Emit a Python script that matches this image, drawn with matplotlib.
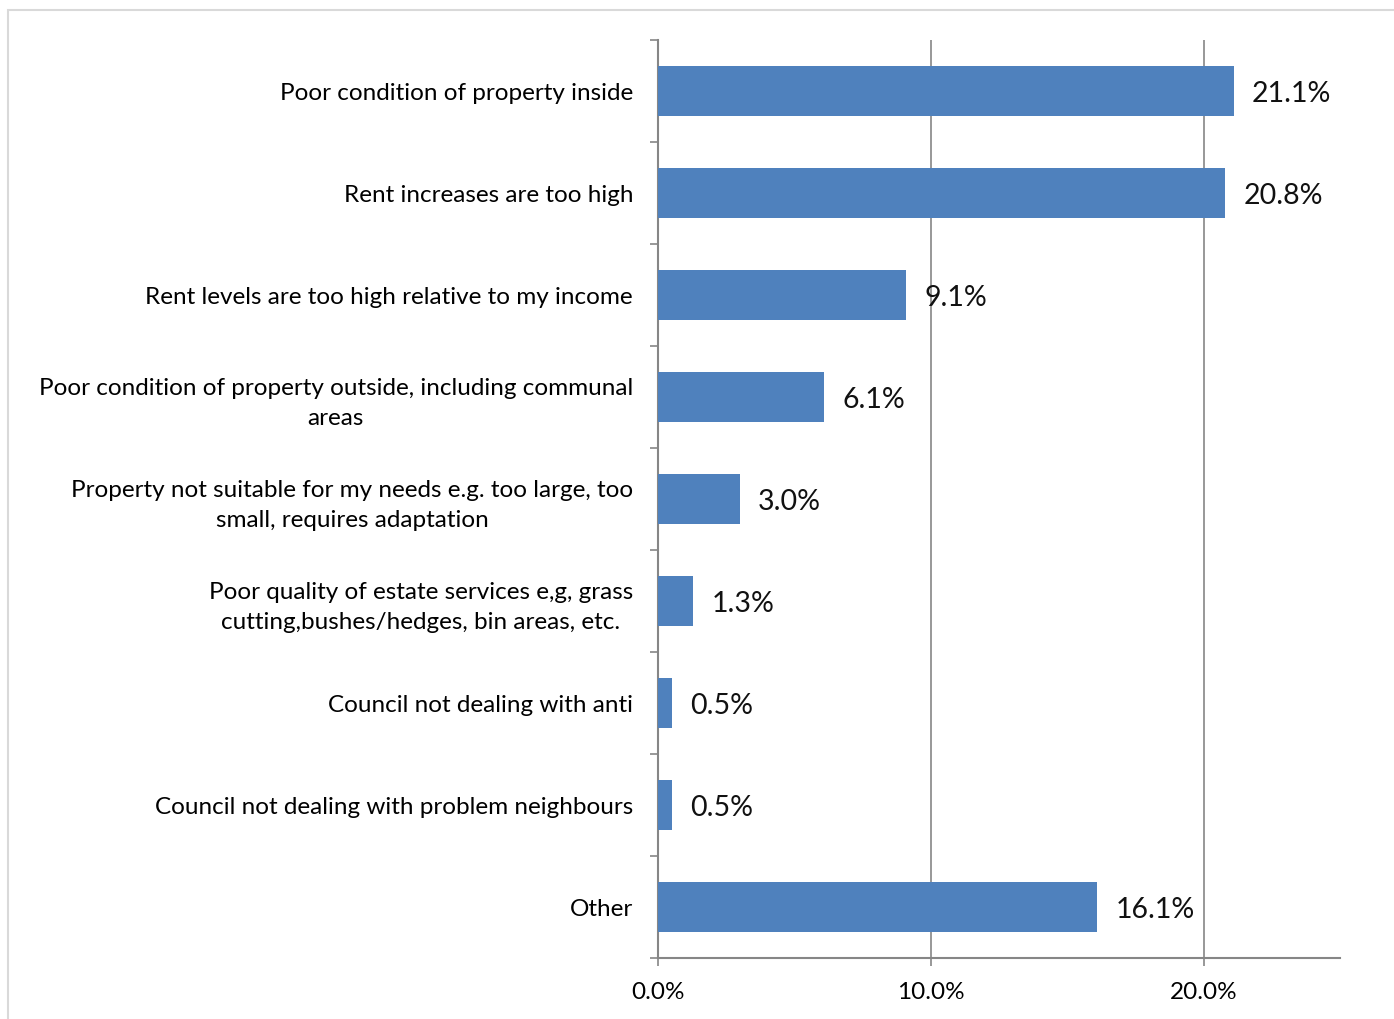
import matplotlib
matplotlib.use("Agg")
import matplotlib.pyplot as plt
from matplotlib.ticker import FuncFormatter, MultipleLocator

plt.rcParams.update({"font.family": ["Lato", "DejaVu Sans"]})

# reasons for dissatisfaction, top to bottom
reasons = [
    "Poor condition of property inside",
    "Rent increases are too high",
    "Rent levels are too high relative to my income",
    "Poor condition of property outside, including communal\nareas",
    "Property not suitable for my needs e.g. too large, too\nsmall, requires adaptation",
    "Poor quality of estate services e,g, grass\ncutting,bushes/hedges, bin areas, etc.",
    "Council not dealing with anti",
    "Council not dealing with problem neighbours",
    "Other",
]
share = [21.1, 20.8, 9.1, 6.1, 3.0, 1.3, 0.5, 0.5, 16.1]

BAR = "#4F81BD"
AXIS = "#868686"

fig = plt.figure(figsize=(13.94, 10.19), dpi=100)
# light frame around the chart area
fig.add_artist(plt.Rectangle((8 / 1394, -0.1), 1.2, 1 - 10 / 1019 + 0.1,
                             transform=fig.transFigure, fill=False,
                             edgecolor="#D9D9D9", lw=1.5))

ax = fig.add_axes([658 / 1394, 1 - 958 / 1019, (1340 - 658) / 1394, (958 - 40) / 1019])
y = list(range(len(reasons)))[::-1]
ax.barh(y, share, height=0.49, color=BAR, zorder=3)
for v, yy in zip(share, y):
    ax.annotate(f"{v:.1f}%", (v, yy), xytext=(13, 0), textcoords="offset points",
                va="center_baseline", ha="left", fontsize=20.5, color="#111111", zorder=4)

ax.set_xlim(0, 25)
ax.set_ylim(-0.5, len(reasons) - 0.5)
ax.xaxis.set_major_locator(MultipleLocator(10))
ax.xaxis.set_major_formatter(FuncFormatter(lambda v, p: f"{v:.1f}%"))
ax.grid(axis="x", color=AXIS, lw=1.2, zorder=0)

# category labels sit between the boundary ticks; wrapped lines are centred
ax.set_yticks(y)
ax.set_yticklabels(reasons, fontsize=17.5, linespacing=1.55, ha="right",
                   multialignment="center")
ax.tick_params(axis="y", length=0, pad=18)
ax.set_yticks([i - 0.5 for i in range(len(reasons) + 1)], minor=True)
ax.tick_params(axis="y", which="minor", length=6, width=1.2, color=AXIS)
ax.tick_params(axis="x", length=6, width=1.2, color=AXIS, labelsize=17.5, pad=11)

for s in ("top", "right"):
    ax.spines[s].set_visible(False)
for s in ("left", "bottom"):
    ax.spines[s].set_color(AXIS)
    ax.spines[s].set_linewidth(1.5)

fig.savefig("out.png", dpi=100)
